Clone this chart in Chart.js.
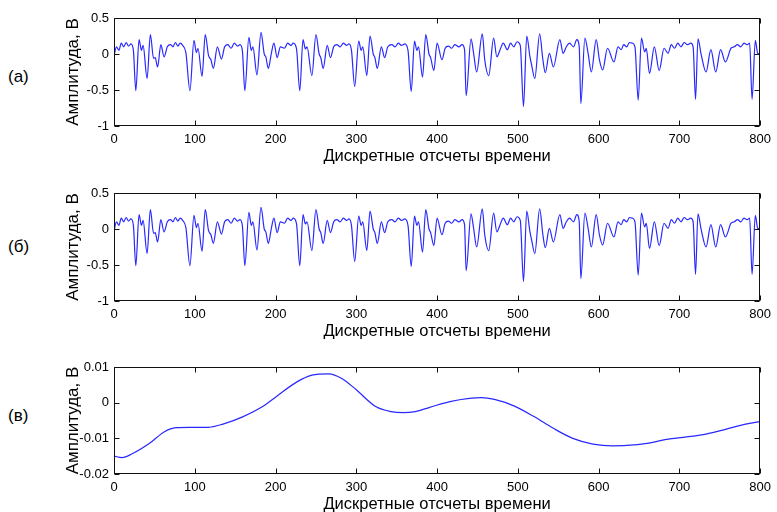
<!DOCTYPE html>
<html>
<head>
<meta charset="utf-8">
<script src="https://cdn.jsdelivr.net/npm/chart.js@4"></script>
<style>
  body { margin: 0; background: #fff; width: 777px; height: 512px; position: relative; overflow: hidden; }
  .panel { position: absolute; left: 0; }
  .tag { position: absolute; left: 8px; font: 17px "Liberation Sans", Arial, sans-serif; line-height: 20px; color: #000; }
</style>
</head>
<body>
<div class="tag" style="top: 67px;">(а)</div>
<div class="tag" style="top: 237px;">(б)</div>
<div class="tag" style="top: 406px;">(в)</div>
<div class="panel" style="top: 0px;"><canvas id="chartA" width="777" height="170"></canvas></div>
<div class="panel" style="top: 175px;"><canvas id="chartB" width="777" height="170"></canvas></div>
<div class="panel" style="top: 349px;"><canvas id="chartC" width="777" height="169"></canvas></div>
<script>
// Signal samples (vertices of the trace): sample index and amplitude, V
const signalX = [
  0, 3, 6, 9, 12, 15, 18, 21, 24, 27, 31, 34, 36, 41, 45, 49, 51, 54, 58, 62,
  66, 70, 73, 76, 79, 82, 85, 89, 94, 99, 102, 104, 109, 113, 117, 120, 123, 128, 133, 137,
  141, 145, 149, 153, 156, 159, 162, 167, 170, 172, 177, 182, 186, 188, 191, 195, 198, 202, 206, 211,
  215, 219, 222, 226, 230, 234, 237, 239, 245, 250, 254, 256, 259, 264, 268, 272, 276, 280, 284, 288,
  291, 294, 298, 303, 306, 308, 313, 317, 321, 323, 326, 331, 335, 339, 344, 348, 352, 356, 360, 364,
  368, 372, 375, 377, 382, 386, 390, 392, 396, 400, 406, 410, 414, 418, 422, 427, 431, 434, 436, 442,
  445, 449, 456, 459, 464, 470, 474, 478, 482, 487, 491, 495, 499, 503, 507, 511, 515, 517, 521, 527,
  531, 534, 539, 544, 552, 556, 560, 564, 569, 573, 576, 578, 583, 587, 591, 597, 601, 605, 611, 619,
  624, 628, 631, 635, 638, 642, 645, 649, 653, 657, 659, 663, 669, 675, 681, 686, 690, 694, 698, 702,
  706, 710, 714, 717, 720, 723, 727, 733, 739, 745, 751, 757, 764, 768, 772, 776, 780, 784, 787, 790,
  794, 797, 800
];
const signalY = [
  -0.03, 0.10, 0.05, 0.15, 0.10, 0.16, 0.11, 0.14, 0.05, -0.51, 0.20, 0.05, 0.12, -0.34, 0.27, -0.06, -0.05, -0.18, 0.13, -0.04,
  0.10, 0.13, 0.10, 0.16, 0.11, 0.15, 0.12, 0.02, -0.51, 0.19, 0.02, 0.08, -0.31, 0.27, -0.02, -0.08, -0.20, 0.10, -0.07, 0.10,
  0.13, 0.08, 0.15, 0.11, 0.13, 0.04, -0.51, 0.23, 0.05, 0.10, -0.29, 0.30, 0.00, -0.04, -0.20, 0.02, 0.15, -0.05, 0.10, 0.08,
  0.15, 0.12, 0.15, 0.07, -0.51, 0.20, 0.07, 0.10, -0.30, 0.27, 0.00, -0.05, -0.20, 0.12, -0.05, 0.10, 0.13, 0.10, 0.15, 0.12,
  0.14, 0.05, -0.45, 0.18, 0.05, 0.10, -0.30, 0.25, 0.00, -0.05, -0.20, 0.10, -0.05, 0.10, 0.13, 0.10, 0.15, 0.12, 0.14, 0.05,
  -0.52, 0.18, 0.05, 0.10, -0.32, 0.27, 0.00, -0.05, -0.23, 0.15, -0.08, 0.08, 0.11, 0.08, 0.13, 0.10, 0.13, 0.06, -0.58, 0.21,
  0.03, -0.25, 0.28, -0.08, -0.30, 0.22, -0.04, 0.06, 0.15, 0.06, 0.15, 0.10, 0.17, 0.12, -0.73, 0.25, -0.04, -0.15, -0.34, 0.28,
  -0.08, -0.26, 0.01, -0.18, 0.20, 0.01, 0.10, 0.15, 0.10, 0.20, 0.10, -0.69, 0.22, 0.01, -0.25, 0.20, -0.08, -0.22, 0.08, -0.11,
  0.10, 0.06, 0.13, 0.10, 0.16, 0.15, 0.10, -0.64, 0.22, 0.03, 0.08, -0.27, 0.10, -0.23, 0.08, 0.01, 0.13, 0.08, 0.15, 0.10,
  0.16, 0.13, 0.15, 0.10, -0.63, 0.21, -0.01, -0.25, 0.06, -0.25, 0.06, -0.11, 0.08, 0.10, 0.13, 0.10, 0.15, 0.13, 0.15, -0.63,
  0.19, 0.01, 0.00
];

// Slow trend component
const trendX = [0, 10, 22, 44, 62, 77, 93, 117, 135, 160, 184, 202, 227, 245, 266, 282, 300, 324, 343, 358,
  373, 391, 416, 440, 455, 471, 495, 520, 544, 568, 593, 617, 635, 660, 684, 709, 733, 757, 782, 800];
const trendY = [-0.0150, -0.0154, -0.0144, -0.0114, -0.0082, -0.0070, -0.0069, -0.0069, -0.0060, -0.0039,
  -0.0011, 0.0019, 0.0059, 0.0077, 0.0081, 0.0068, 0.0036, -0.0011, -0.0025, -0.0028,
  -0.0025, -0.0013, 0.0003, 0.0012, 0.0014, 0.0009, -0.0009, -0.0039, -0.0072, -0.0100,
  -0.0116, -0.0121, -0.0120, -0.0114, -0.0103, -0.0096, -0.0088, -0.0075, -0.0060, -0.0053];

// Tick labels
const xTicks = [0, 100, 200, 300, 400, 500, 600, 700, 800];
const yTicksSignal = [-1, -0.5, 0, 0.5];
const yTicksTrend = [-0.02, -0.01, 0, 0.01];

const xTitle = 'Дискретные отсчеты времени';
const yTitle = 'Амплитуда, В';
const FONT = '"Liberation Sans", Arial, sans-serif';

// Box around the plot area with short inward ticks on all four sides
const frameTicks = {
  id: 'frameTicks',
  afterDraw(chart) {
    const { ctx, chartArea: a, scales: { x, y } } = chart;
    const L = Math.round(a.left) + 0.5, R = Math.round(a.right) - 0.5;
    const T = Math.round(a.top) + 0.5, B = Math.round(a.bottom) - 0.5;
    const len = 5;
    ctx.save();
    ctx.strokeStyle = '#111';
    ctx.lineWidth = 1;
    ctx.strokeRect(L, T, R - L, B - T);
    ctx.beginPath();
    x.ticks.forEach(t => {
      const px = Math.round(x.getPixelForValue(t.value)) + 0.5;
      ctx.moveTo(px, B); ctx.lineTo(px, B - len);
      ctx.moveTo(px, T); ctx.lineTo(px, T + len);
    });
    y.ticks.forEach(t => {
      const py = Math.round(y.getPixelForValue(t.value)) + 0.5;
      ctx.moveTo(L, py); ctx.lineTo(L + len, py);
      ctx.moveTo(R, py); ctx.lineTo(R - len, py);
    });
    ctx.stroke();
    ctx.restore();
  }
};

function toPoints(xs, ys) {
  return xs.map((v, i) => ({ x: v, y: ys[i] }));
}

function makePanel(id, xs, ys, yTicks) {
  return new Chart(document.getElementById(id), {
    type: 'line',
    data: {
      datasets: [{
        data: toPoints(xs, ys),
        borderColor: 'rgb(40, 40, 255)',
        borderWidth: 1.2,
        pointRadius: 0,
        cubicInterpolationMode: 'monotone',
        fill: false
      }]
    },
    options: {
      responsive: false,
      animation: false,
      events: [],
      layout: { padding: { left: 59, top: 18, right: 14, bottom: 0 } },
      plugins: { legend: { display: false }, tooltip: { enabled: false } },
      scales: {
        x: {
          type: 'linear',
          min: 0, max: 800,
          grid: { display: false, drawTicks: false },
          border: { display: false },
          afterBuildTicks: s => { s.ticks = xTicks.map(v => ({ value: v })); },
          afterFit: s => { s.height = 44; },
          ticks: { color: '#000', padding: 6, maxRotation: 0, font: { family: FONT, size: 13 }, callback: v => String(v) },
          title: { display: true, text: xTitle, color: '#000', font: { family: FONT, size: 16.5 }, padding: { top: 2, bottom: 4 } }
        },
        y: {
          min: yTicks[0], max: yTicks[yTicks.length - 1],
          grid: { display: false, drawTicks: false },
          border: { display: false },
          afterBuildTicks: s => { s.ticks = yTicks.map(v => ({ value: v })); },
          afterFit: s => { s.width = 55; },
          ticks: { color: '#000', padding: 5, font: { family: FONT, size: 13 }, callback: v => String(v) },
          title: { display: true, text: yTitle, color: '#000', font: { family: FONT, size: 17 }, padding: { top: 4, bottom: 4 } }
        }
      }
    },
    plugins: [frameTicks]
  });
}

document.addEventListener('DOMContentLoaded', function() {
  makePanel('chartA', signalX, signalY, yTicksSignal);
  makePanel('chartB', signalX, signalY, yTicksSignal);
  makePanel('chartC', trendX, trendY, yTicksTrend);
});
</script>
</body>
</html>
